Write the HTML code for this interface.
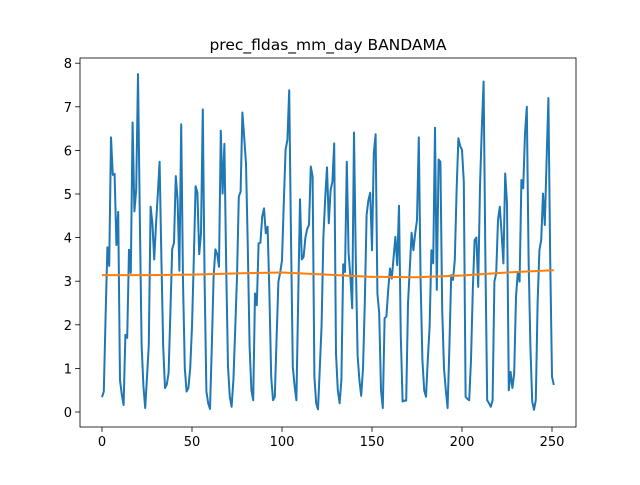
<!DOCTYPE html>
<html><head><meta charset="utf-8"><style>
body{margin:0;background:#fff;}
svg text{font-family:"DejaVu Sans","Liberation Sans",sans-serif;}
</style></head><body>
<svg id="chart" width="640" height="480" xmlns="http://www.w3.org/2000/svg">
<rect width="640" height="480" fill="#fff"/>
<text x="328" y="50" text-anchor="middle" font-size="15.5">prec_fldas_mm_day BANDAMA</text>
<g id="axes"></g>
</svg>
<script>
const precValues=[0.34,0.47,2.2,3.78,3.35,6.3,5.44,5.46,3.83,4.59,0.73,0.4,0.16,1.77,1.7,3.72,3.19,6.64,4.6,5.1,7.75,4.5,1.54,0.6,0.09,0.8,1.54,4.71,4.33,3.5,4.3,5.0,5.74,3.5,1.5,0.55,0.63,0.9,2.3,3.74,3.88,5.41,4.86,3.24,6.6,3.0,1.0,0.47,0.55,1.0,1.96,3.5,5.18,5.03,3.62,4.1,6.94,3.0,0.47,0.2,0.07,1.5,3.1,3.73,3.62,3.33,6.45,5.01,6.15,3.33,1.04,0.35,0.12,0.73,1.9,3.1,4.94,5.05,6.87,6.3,5.7,3.79,1.5,0.5,0.27,2.72,2.45,3.87,3.88,4.48,4.67,4.1,4.25,2.72,0.8,0.27,0.35,1.7,2.99,3.2,3.48,4.8,6.02,6.24,7.38,4.0,1.04,0.6,0.27,2.6,4.88,3.5,3.56,4.0,4.2,4.29,5.63,5.4,0.8,0.2,0.06,1.0,2.0,4.02,4.9,5.61,4.33,5.09,5.28,6.16,1.34,0.5,0.2,0.73,3.39,3.21,5.74,3.64,3.1,2.38,6.41,3.5,1.3,0.73,0.37,1.0,2.5,4.52,4.86,5.03,3.71,5.93,6.37,2.72,2.27,0.5,0.09,2.15,2.19,2.8,3.29,3.06,3.55,4.02,3.37,4.73,1.73,0.24,0.26,0.26,2.49,3.3,4.11,3.71,4.1,4.4,6.3,3.0,1.19,0.5,0.35,1.2,1.95,3.71,3.41,6.52,2.8,5.79,5.74,2.34,1.0,0.5,0.09,1.5,3.14,3.03,3.48,5.09,6.28,6.1,6.01,5.28,0.35,0.3,0.27,1.2,2.8,3.94,4.0,2.87,5.17,6.5,7.58,3.48,0.27,0.2,0.12,0.27,2.99,3.18,4.4,4.71,4.1,3.41,5.47,4.78,0.5,0.92,0.55,0.89,2.64,3.21,2.99,5.32,5.13,6.39,7.0,3.5,1.5,0.24,0.05,0.27,2.5,3.71,3.94,5.01,4.29,5.78,7.2,3.5,0.81,0.62];
const trendIdx=[0,25,50,75,100,125,150,175,200,225,251];
const trendValues=[3.14,3.14,3.15,3.18,3.2,3.15,3.1,3.09,3.13,3.2,3.25];
const xTicks=[0,50,100,150,200,250];
const yTicks=[0,1,2,3,4,5,6,7,8];

const L=80,R=576,T=58,B=427;
const xs=i=>102+i*1.8;
const ys=v=>412-v*43.6;
const NS='http://www.w3.org/2000/svg';
const g=document.getElementById('axes');
function mk(tag,attrs){const e=document.createElementNS(NS,tag);for(const k in attrs)e.setAttribute(k,attrs[k]);g.appendChild(e);return e;}

xTicks.forEach(t=>{
  const x=xs(t);
  const tk=mk('line',{x1:x,x2:x,y1:B,y2:B+4.9,stroke:'#000','stroke-width':0.8});
  
  
  const tx=mk('text',{x:x,y:B+19,'text-anchor':'middle','font-size':13});
  tx.textContent=t;
  
  
});
yTicks.forEach(t=>{
  const y=ys(t);
  const tk=mk('line',{x1:L-4.9,x2:L,y1:y,y2:y,stroke:'#000','stroke-width':0.8});
  
  
  const tx=mk('text',{x:L-8,y:y+5,'text-anchor':'end','font-size':13});
  tx.textContent=t;
  
  
});

const line=mk('polyline',{points:precValues.map((v,i)=>xs(i)+','+ys(v)).join(' '),fill:'none',stroke:'#1f77b4','stroke-width':2,'stroke-linejoin':'round'});


const tr=mk('polyline',{points:trendValues.map((v,i)=>xs(trendIdx[i])+','+ys(v)).join(' '),fill:'none',stroke:'#ff7f0e','stroke-width':2});



const frame=mk('rect',{x:L,y:T,width:R-L,height:B-T,fill:'none',stroke:'#000','stroke-width':0.8});


</script>
</body></html>
